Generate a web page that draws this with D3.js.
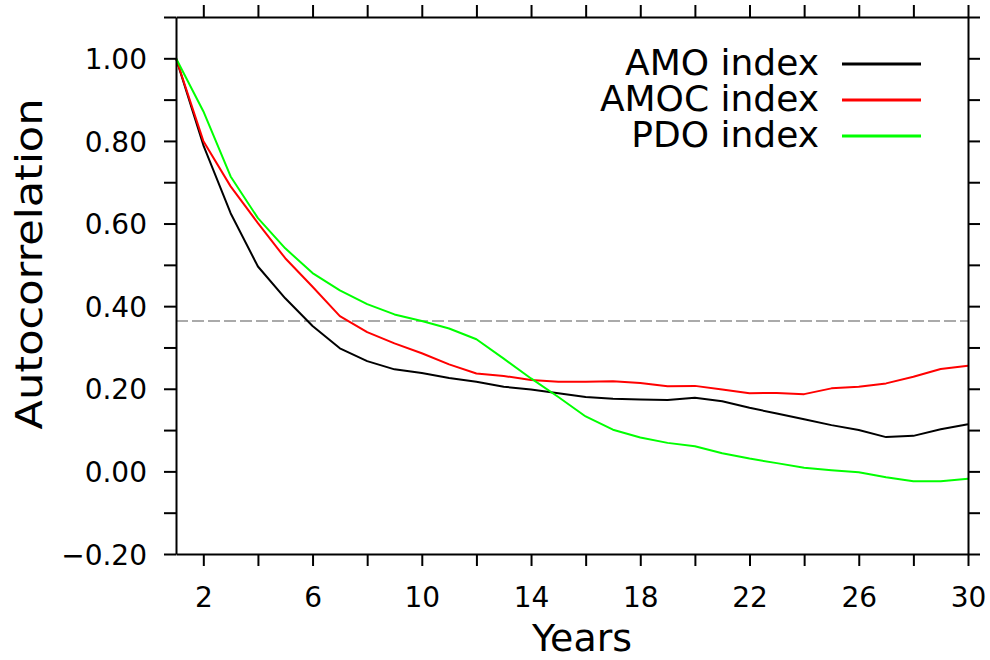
<!DOCTYPE html>
<html>
<head>
<meta charset="utf-8">
<script src="https://cdn.jsdelivr.net/npm/d3@7"></script>
<style>
  html, body { margin: 0; padding: 0; background: #fff; }
  svg { display: block; }
</style>
</head>
<body>
<svg id="chart" width="990" height="660"></svg>
<script>
// Lag in years
const lags = d3.range(1, 31);

// Autocorrelation of each climate index at lags 1..30
const amo  = [1.00, 0.79, 0.625, 0.496, 0.419, 0.352, 0.298, 0.267, 0.247, 0.238, 0.226, 0.217, 0.205, 0.198, 0.189,
              0.180, 0.176, 0.174, 0.173, 0.178, 0.170, 0.154, 0.140, 0.126, 0.112, 0.100, 0.083, 0.086, 0.102, 0.114];
const amoc = [1.00, 0.80, 0.690, 0.601, 0.516, 0.447, 0.376, 0.337, 0.310, 0.286, 0.259, 0.237, 0.231, 0.221, 0.217,
              0.217, 0.218, 0.214, 0.206, 0.207, 0.198, 0.189, 0.190, 0.187, 0.201, 0.205, 0.213, 0.229, 0.248, 0.256];
const pdo  = [1.00, 0.872, 0.714, 0.613, 0.540, 0.480, 0.438, 0.405, 0.380, 0.364, 0.346, 0.320, 0.273, 0.225, 0.180,
              0.133, 0.101, 0.082, 0.069, 0.061, 0.044, 0.031, 0.020, 0.009, 0.003, -0.002, -0.014, -0.024, -0.024, -0.018];

const seriesNames  = ["AMO index", "AMOC index", "PDO index"];
const seriesColors = ["#000000", "#ff0000", "#00ff00"];

// e-folding reference level
const threshold = 0.364;

// Tick values
const xTicks      = d3.range(2, 31, 2);
const xTickLabels = [2, 6, 10, 14, 18, 22, 26, 30];
const yTicks      = d3.range(-2, 12).map(d => d / 10);
const yTickLabels = [-0.2, 0, 0.2, 0.4, 0.6, 0.8, 1.0];

const svg = d3.select("#chart");
const margin = { left: 176, right: 22, top: 17, bottom: 106 };
const W = 990, H = 660;

const x = d3.scaleLinear().domain([1, 30]).range([margin.left, W - margin.right]);
const y = d3.scaleLinear().domain([-0.2, 1.1]).range([H - margin.bottom, margin.top]);

const font = "'DejaVu Sans', sans-serif";
const tickLen = 12;

// Dashed reference line
svg.append("line")
  .attr("x1", x(1)).attr("x2", x(30))
  .attr("y1", y(threshold)).attr("y2", y(threshold))
  .attr("stroke", "#aaaaaa").attr("stroke-width", 2)
  .attr("stroke-dasharray", "12,4");

// Series lines
const line = d3.line().x((d, i) => x(lags[i])).y(d => y(d));
[amo, amoc, pdo].forEach((vals, k) => {
  svg.append("path")
    .datum(vals)
    .attr("d", line)
    .attr("fill", "none")
    .attr("stroke", seriesColors[k])
    .attr("stroke-width", 2)
    .attr("stroke-linejoin", "round");
});

// Axes with outward ticks on all four sides
function styleAxis(g) {
  g.selectAll(".domain").attr("stroke", "#000").attr("stroke-width", 2);
  g.selectAll(".tick line").attr("stroke", "#000").attr("stroke-width", 2);
  g.selectAll(".tick text")
    .attr("font-family", font)
    .attr("font-size", 28)
    .attr("fill", "#000");
}

const fmtY = v => (yTickLabels.some(t => Math.abs(t - v) < 1e-9) ? (v < 0 ? "\u2212" : "") + Math.abs(v).toFixed(2) : "");
const fmtX = v => (xTickLabels.includes(v) ? String(v) : "");

const gBottom = svg.append("g")
  .attr("transform", `translate(0,${y(-0.2)})`)
  .call(d3.axisBottom(x).tickValues(xTicks).tickFormat(fmtX).tickSizeInner(tickLen).tickSizeOuter(0));
styleAxis(gBottom);
gBottom.selectAll(".tick text").attr("dy", null).attr("y", 53);

const gTop = svg.append("g")
  .attr("transform", `translate(0,${y(1.1)})`)
  .call(d3.axisTop(x).tickValues(xTicks).tickFormat("").tickSizeInner(tickLen).tickSizeOuter(0));
styleAxis(gTop);

const gLeft = svg.append("g")
  .attr("transform", `translate(${x(1)},0)`)
  .call(d3.axisLeft(y).tickValues(yTicks).tickFormat(fmtY).tickSizeInner(tickLen).tickSizeOuter(0).tickPadding(17));
styleAxis(gLeft);
gLeft.selectAll(".tick text").attr("dy", "0.36em");

const gRight = svg.append("g")
  .attr("transform", `translate(${x(30)},0)`)
  .call(d3.axisRight(y).tickValues(yTicks).tickFormat("").tickSizeInner(tickLen).tickSizeOuter(0));
styleAxis(gRight);

// Axis titles
svg.append("text")
  .attr("x", 582).attr("y", 651)
  .attr("text-anchor", "middle")
  .attr("font-family", font)
  .attr("font-size", 37)
  .attr("textLength", 100).attr("lengthAdjust", "spacingAndGlyphs")
  .text("Years");

svg.append("text")
  .attr("transform", "translate(42,264) rotate(-90)")
  .attr("text-anchor", "middle")
  .attr("font-family", font)
  .attr("font-size", 38)
  .attr("textLength", 331).attr("lengthAdjust", "spacingAndGlyphs")
  .text("Autocorrelation");

// Legend
const legendY = [64, 100, 136];
seriesNames.forEach((name, k) => {
  svg.append("text")
    .attr("x", 819).attr("y", legendY[k] + 11)
    .attr("text-anchor", "end")
    .attr("font-family", font)
    .attr("font-size", 36)
    .text(name);
  svg.append("line")
    .attr("x1", 842).attr("x2", 921)
    .attr("y1", legendY[k]).attr("y2", legendY[k])
    .attr("stroke", seriesColors[k])
    .attr("stroke-width", 3);
});
</script>
</body>
</html>
